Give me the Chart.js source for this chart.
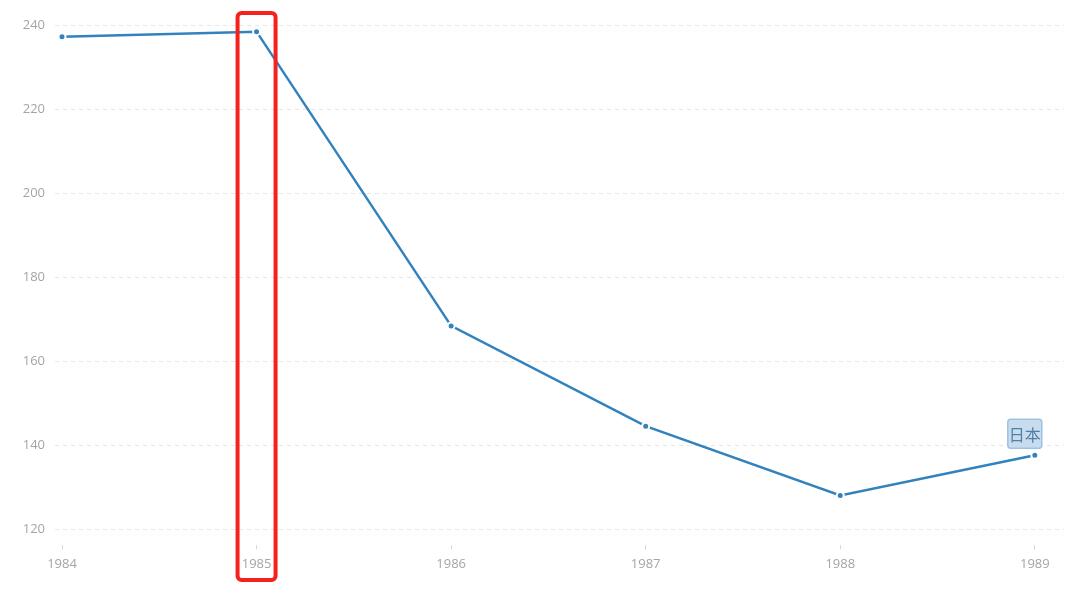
<!DOCTYPE html>
<html>
<head>
<meta charset="utf-8">
<script src="https://cdn.jsdelivr.net/npm/chart.js@4"></script>
<style>
  html, body { margin: 0; padding: 0; background: #fff; }
  #wrap { width: 1080px; height: 598px; }
</style>
</head>
<body>
<div id="wrap"><canvas id="chart"></canvas></div>
<script>
const years = [1984, 1985, 1986, 1987, 1988, 1989];
const japanValues = [237.4, 238.6, 168.5, 144.6, 128.1, 137.7];
const yTicks = [120, 140, 160, 180, 200, 220, 240];
const seriesLabel = '日本';
const highlightYear = 1985;

const lineColor = '#3182bd';

// red box round the highlighted year + the series label at the last point
const overlayPlugin = {
  id: 'overlay',
  afterDatasetsDraw(chart) {
    const ctx = chart.ctx;
    const xs = chart.scales.x;
    const meta = chart.getDatasetMeta(0);
    const last = meta.data[meta.data.length - 1];

    // label box
    ctx.save();
    ctx.font = '16px "Noto Sans CJK SC", "Open Sans", sans-serif';
    const tw = ctx.measureText(seriesLabel).width;
    const bw = tw + 2, bh = 29;
    const cx = last.x - 10;
    const by = last.y - 7 - bh;
    ctx.beginPath();
    ctx.roundRect(cx - bw / 2, by, bw, bh, 3);
    ctx.fillStyle = '#c9dcee';
    ctx.fill();
    ctx.lineWidth = 1.5;
    ctx.strokeStyle = '#9cc3e2';
    ctx.stroke();
    ctx.fillStyle = '#4f7fa8';
    ctx.textAlign = 'center';
    ctx.textBaseline = 'middle';
    ctx.fillText(seriesLabel, cx, by + bh / 2 + 1);
    ctx.restore();

    // highlight rectangle
    const hx = xs.getPixelForValue(highlightYear);
    ctx.save();
    ctx.beginPath();
    ctx.roundRect(hx - 19, 13, 38, 567, 4);
    ctx.lineWidth = 4;
    ctx.strokeStyle = '#f4211c';
    ctx.stroke();
    ctx.restore();
  }
};

new Chart(document.getElementById('chart'), {
  type: 'line',
  data: {
    datasets: [{
      label: seriesLabel,
      data: years.map((y, i) => ({ x: y, y: japanValues[i] })),
      borderColor: lineColor,
      borderWidth: 2.5,
      pointRadius: 3.5,
      pointBorderWidth: 2,
      pointBackgroundColor: lineColor,
      pointBorderColor: '#fff',
      tension: 0
    }]
  },
  options: {
    responsive: true,
    maintainAspectRatio: false,
    animation: false,
    layout: { padding: { top: 8, right: 16, bottom: 18, left: 0 } },
    plugins: {
      legend: { display: false },
      tooltip: { enabled: false }
    },
    scales: {
      x: {
        type: 'linear',
        min: 1983.964,
        max: 1989.15,
        afterBuildTicks(scale) { scale.ticks = years.map(v => ({ value: v })); },
        border: { display: false },
        grid: {
          drawOnChartArea: false,
          drawTicks: true,
          tickLength: 4,
          color: '#d9d9d9'
        },
        ticks: {
          padding: 7.5,
          color: '#a8a4a0',
          font: { family: '"Open Sans", sans-serif', size: 13 },
          maxRotation: 0,
          callback: v => String(v)
        }
      },
      y: {
        min: 116.2,
        max: 241.9,
        afterBuildTicks(scale) { scale.ticks = yTicks.map(v => ({ value: v })); },
        afterFit(scale) { scale.width = 55; },
        grid: {
          drawTicks: false,
          color: '#e6e6e6',
          lineWidth: 1
        },
        border: { display: false, dash: [4, 4] },
        ticks: {
          padding: 10,
          color: '#a8a4a0',
          font: { family: '"Open Sans", sans-serif', size: 13 }
        }
      }
    }
  },
  plugins: [overlayPlugin]
});
</script>
</body>
</html>
